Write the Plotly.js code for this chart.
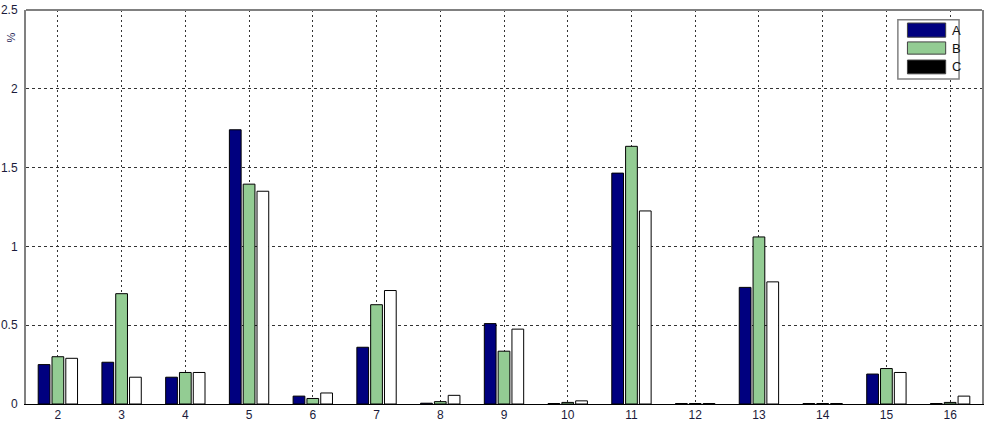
<!DOCTYPE html>
<html>
<head>
<meta charset="utf-8">
<script src="https://cdn.plot.ly/plotly-3.0.1.min.js"></script>
<style>
  html, body { margin: 0; padding: 0; background: #fff; }
  #graph { width: 987px; height: 424px; }
</style>
</head>
<body>
<div id="graph"></div>
<script>
var categories = [2, 3, 4, 5, 6, 7, 8, 9, 10, 11, 12, 13, 14, 15, 16];
var seriesA = [0.25, 0.265, 0.17, 1.74, 0.05, 0.36, 0.005, 0.51, 0.003, 1.465, 0.003, 0.74, 0.003, 0.19, 0.003];
var seriesB = [0.30, 0.70, 0.20, 1.395, 0.035, 0.63, 0.015, 0.335, 0.01, 1.635, 0.003, 1.06, 0.003, 0.225, 0.01];
var seriesC = [0.29, 0.17, 0.20, 1.35, 0.07, 0.72, 0.055, 0.475, 0.02, 1.225, 0.003, 0.775, 0.003, 0.20, 0.05];
var yTicks = [0, 0.5, 1, 1.5, 2, 2.5];
var yTickText = ['0', '0.5', '1', '1.5', '2', '2.5'];

function barTrace(name, values, fill) {
    return {
        type: 'bar',
        name: name,
        x: categories,
        y: values,
        marker: { color: fill, line: { color: '#000', width: 1 } },
        showlegend: false,
        hoverinfo: 'x+y'
    };
}

var data = [
    barTrace('A', seriesA, '#00007f'),
    barTrace('B', seriesB, '#93cc93'),
    barTrace('C', seriesC, '#ffffff')
];

// legend drawn by hand, matlab style (C swatch is black there)
var legendItems = [
    { name: 'A', color: '#00007f', top: 0.967, bottom: 0.931 },
    { name: 'B', color: '#93cc93', top: 0.919, bottom: 0.888 },
    { name: 'C', color: '#000000', top: 0.873, bottom: 0.838 }
];
var shapes = [
    { type: 'rect', xref: 'paper', yref: 'paper', x0: 0.912, x1: 0.976, y0: 0.825, y1: 0.975,
      line: { color: '#808080', width: 1.5 }, fillcolor: '#fff' },
    { type: 'line', xref: 'paper', yref: 'paper', x0: 0, x1: 1, y0: 1, y1: 1,
      line: { color: '#808080', width: 2 } }
];
var annotations = [
    { xref: 'paper', yref: 'paper', x: -0.0157, y: 0.93, xanchor: 'center', yanchor: 'middle',
      text: '%', showarrow: false, textangle: -90, font: { size: 11, color: '#222255' } }
];
legendItems.forEach(function (it) {
    shapes.push({ type: 'rect', xref: 'paper', yref: 'paper', x0: 0.922, x1: 0.962,
        y0: it.bottom, y1: it.top, fillcolor: it.color, line: { color: '#404040', width: 1 } });
    annotations.push({ xref: 'paper', yref: 'paper', x: 0.967, y: (it.top + it.bottom) / 2,
        xanchor: 'left', yanchor: 'middle', text: it.name, showarrow: false,
        font: { size: 13, color: '#111' } });
});

var layout = {
    width: 987,
    height: 424,
    margin: { l: 26, r: 5, t: 10, b: 20 },
    paper_bgcolor: '#fff',
    plot_bgcolor: '#fff',
    font: { family: 'Liberation Sans, Arial, sans-serif', size: 12, color: '#1a1a3a' },
    barmode: 'group',
    bargap: 0.35,
    bargroupgap: 0.15,
    xaxis: {
        range: [1.5, 16.5],
        tickvals: categories,
        ticktext: categories.map(String),
        showgrid: true,
        gridcolor: '#333',
        gridwidth: 1,
        griddash: '2px,3px',
        showline: true,
        linecolor: '#000',
        linewidth: 1,
        ticks: '',
        zeroline: false,
        fixedrange: true
    },
    yaxis: {
        range: [0, 2.5],
        tickvals: yTicks,
        ticktext: yTickText,
        showgrid: true,
        gridcolor: '#333',
        gridwidth: 1,
        griddash: '3px,3px',
        showline: true,
        mirror: true,
        linecolor: '#808080',
        linewidth: 2,
        ticks: '',
        ticklabelstandoff: 4,
        zeroline: false,
        fixedrange: true
    },
    shapes: shapes,
    annotations: annotations
};

Plotly.newPlot('graph', data, layout, { displayModeBar: false, staticPlot: true });
</script>
</body>
</html>
